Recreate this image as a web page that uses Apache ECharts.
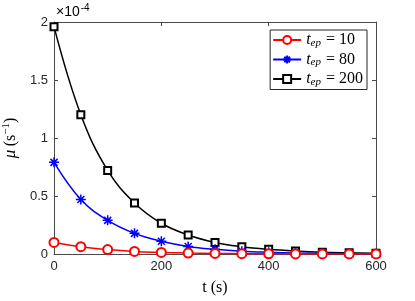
<!DOCTYPE html>
<html><head><meta charset="utf-8">
<script src="https://cdn.jsdelivr.net/npm/echarts@6/dist/echarts.min.js"></script>
<style>html,body{margin:0;padding:0;background:#fff}#c{width:415px;height:301px}</style>
</head><body><div id="c"></div>
<script>
// time (s)
const times = [0, 50, 100, 150, 200, 250, 300, 350, 400, 450, 500, 550, 600];
// mu values, in units of 1e-4 s^-1
const mu10  = [0.10, 0.063, 0.038, 0.022, 0.014, 0.008, 0.005, 0.003, 0.002, 0.001, 0.0007, 0.0004, 0.0002];
const mu80  = [0.79, 0.47, 0.29, 0.178, 0.11, 0.065, 0.04, 0.024, 0.015, 0.009, 0.005, 0.003, 0.002];
const mu200 = [1.96, 1.20, 0.72, 0.44, 0.265, 0.164, 0.10, 0.063, 0.04, 0.025, 0.015, 0.01, 0.006];
const seriesNames = ['t_ep = 10', 't_ep = 80', 't_ep = 200'];
const xTicks = [0, 200, 400, 600];
const yTicks = [0, 0.5, 1, 1.5, 2];
const yExponent = '-4';

const axisColor = '#4a4a4a';
const labelColor = '#262626';
const asterisk = 'path://M0 -10 L0 10 M-10 0 L10 0 M-7 -7 L7 7 M-7 7 L7 -7';

function pairs(arr){ return times.map((t,i)=>[t, arr[i]]); }

const chart = echarts.init(document.getElementById('c'));
const common = {type:'line', smooth:0.4, showAllSymbol:true, z:3};
chart.setOption({
  animation:false,
  backgroundColor:'#fff',
  grid:{left:54, right:39, top:22, bottom:47, containLabel:false, outerBoundsMode:'none'},
  legend:{
    right: 48, top: 30, orient:'vertical',
    backgroundColor:'#fff', borderColor:'#262626', borderWidth:1,
    padding:[2,4,2,2], itemGap:3, itemWidth:28, itemHeight:10,
    data: seriesNames,
    formatter: n => {const v = n.split('= ')[1]; return '{t|t}{s|ep}{e| = ' + v + '}';},
    textStyle:{
      rich:{
        t:{fontFamily:'Liberation Serif', fontStyle:'italic', fontSize:16, color:'#000'},
        s:{fontFamily:'Liberation Serif', fontStyle:'italic', fontSize:11, color:'#000', padding:[6,1,0,0]},
        e:{fontFamily:'Liberation Serif', fontSize:16, color:'#000'}
      }
    }
  },
  xAxis:[{
    type:'value', min:0, max:600, interval:200, position:'bottom',
    name:'t (s)', nameLocation:'middle', nameGap:26,
    nameTextStyle:{fontFamily:'Liberation Serif', fontSize:16, color:'#000'},
    axisLine:{show:true, onZero:false, lineStyle:{color:axisColor, width:1}},
    axisTick:{show:true, inside:true, length:4, lineStyle:{color:axisColor}},
    axisLabel:{fontFamily:'Liberation Sans', fontSize:13, color:labelColor, margin:6,
      formatter: v => xTicks.includes(v) ? String(v) : ''},
    splitLine:{show:false}
  },{
    type:'value', min:0, max:600, interval:200, position:'top',
    axisLine:{show:true, onZero:false, lineStyle:{color:axisColor, width:1}},
    axisTick:{show:true, inside:true, length:4, lineStyle:{color:axisColor}},
    axisLabel:{show:false}, splitLine:{show:false}
  }],
  yAxis:[{
    type:'value', min:0, max:2, interval:0.5, position:'left',
    name:'{m|μ} {p|(s}{sup|−1}{p|)}', nameLocation:'middle', nameGap:32, nameRotate:90,
    nameTextStyle:{rich:{
      m:{fontFamily:'Liberation Serif', fontStyle:'italic', fontSize:17, color:'#000'},
      p:{fontFamily:'Liberation Serif', fontSize:16, color:'#000'},
      sup:{fontFamily:'Liberation Serif', fontSize:11, color:'#000', padding:[0,0,8,0]}
    }},
    axisLine:{show:true, onZero:false, lineStyle:{color:axisColor, width:1}},
    axisTick:{show:true, inside:true, length:4, lineStyle:{color:axisColor}},
    axisLabel:{fontFamily:'Liberation Sans', fontSize:13, color:labelColor, margin:6,
      formatter: v => yTicks.includes(v) ? String(v) : ''},
    splitLine:{show:false}
  },{
    type:'value', min:0, max:2, interval:0.5, position:'right',
    axisLine:{show:true, onZero:false, lineStyle:{color:axisColor, width:1}},
    axisTick:{show:true, inside:true, length:4, lineStyle:{color:axisColor}},
    axisLabel:{show:false}, splitLine:{show:false}
  }],
  graphic:[{
    type:'text', left:56, top:3,
    style:{
      text:'{a|×10}{b|' + yExponent + '}',
      rich:{
        a:{fontFamily:'Liberation Sans', fontSize:14, color:labelColor},
        b:{fontFamily:'Liberation Sans', fontSize:10, color:labelColor, padding:[0,0,9,1]}
      }
    }
  }],
  series:[
    Object.assign({}, common, {name:seriesNames[0], data:pairs(mu10), z:5,
      symbol:'emptyCircle', symbolSize:9,
      lineStyle:{color:'#ff0000', width:1.5},
      itemStyle:{color:'#ff0000', borderColor:'#ff0000', borderWidth:1.5}}),
    Object.assign({}, common, {name:seriesNames[1], data:pairs(mu80), z:4,
      symbol:asterisk, symbolSize:10,
      lineStyle:{color:'#0000ff', width:1.5},
      itemStyle:{color:'#0000ff', borderColor:'#0000ff', borderWidth:1.5}}),
    Object.assign({}, common, {name:seriesNames[2], data:pairs(mu200), z:3,
      symbol:'emptyRect', symbolSize:7,
      lineStyle:{color:'#000000', width:1.5},
      itemStyle:{color:'#000000', borderColor:'#000000', borderWidth:1.5}})
  ]
});
</script></body></html>
